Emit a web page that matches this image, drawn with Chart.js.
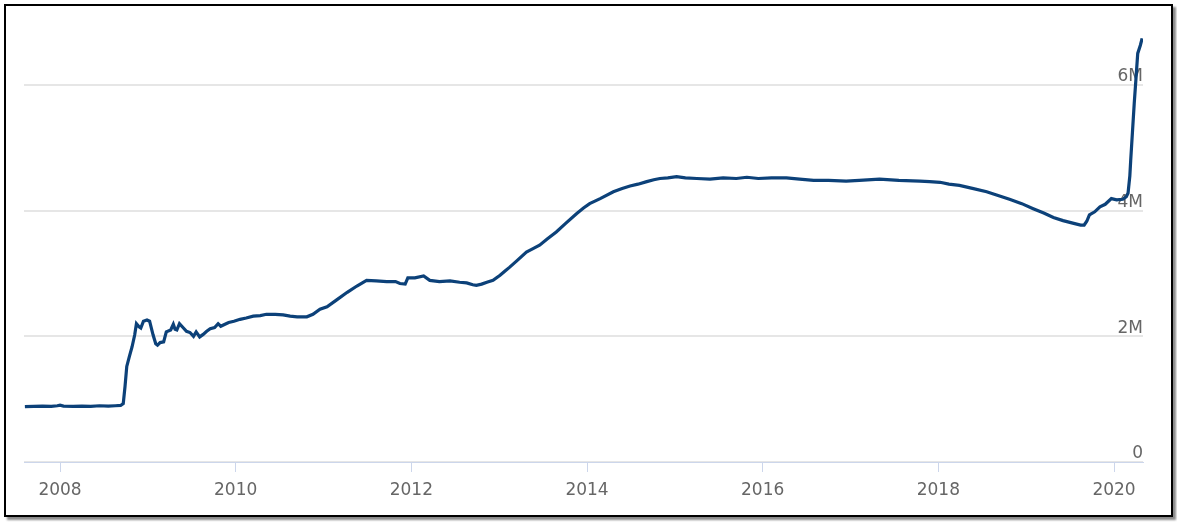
<!DOCTYPE html>
<html>
<head>
<meta charset="utf-8">
<script src="https://cdn.jsdelivr.net/npm/chart.js@4.4.1/dist/chart.umd.min.js"></script>
<style>
  html, body { margin: 0; padding: 0; background: #fff; }
  #wrap { position: relative; width: 1177px; height: 523px; overflow: hidden; }
  #frame { position: absolute; left: 4px; top: 4px; width: 1165px; height: 509px;
           border: 2px solid #000; box-shadow: 3px 3px 2px #8a8a8a; background: #fff; }
  #c { position: absolute; left: 0; top: 0; }
</style>
</head>
<body>
<div id="wrap">
  <div id="frame"></div>
  <canvas id="c" width="1177" height="523"></canvas>
</div>
<script>
// Decimal years (x) and balance values in millions of millions ("M")
const years = [
  2007.60, 2007.70, 2007.80, 2007.90, 2007.97, 2008.00, 2008.04, 2008.15, 2008.25, 2008.35,
  2008.45, 2008.55, 2008.63, 2008.69, 2008.72, 2008.74, 2008.76, 2008.79, 2008.82, 2008.85,
  2008.87, 2008.90, 2008.92, 2008.95, 2008.99, 2009.02, 2009.06, 2009.09, 2009.11, 2009.14,
  2009.18, 2009.21, 2009.26, 2009.29, 2009.31, 2009.33, 2009.36, 2009.40, 2009.44, 2009.48,
  2009.52, 2009.55, 2009.59, 2009.63, 2009.67, 2009.71, 2009.76, 2009.80, 2009.83, 2009.86,
  2009.92, 2009.98, 2010.05, 2010.12, 2010.20, 2010.28, 2010.35, 2010.45, 2010.54, 2010.62,
  2010.70, 2010.81, 2010.88, 2010.96, 2011.04, 2011.15, 2011.27, 2011.38, 2011.49, 2011.60,
  2011.72, 2011.82, 2011.87, 2011.93, 2011.96, 2012.04, 2012.14, 2012.21, 2012.32, 2012.44,
  2012.55, 2012.63, 2012.70, 2012.74, 2012.80, 2012.86, 2012.93, 2013.01, 2013.06, 2013.12,
  2013.20, 2013.31, 2013.38, 2013.46, 2013.55, 2013.65, 2013.76, 2013.88, 2013.96, 2014.03,
  2014.15, 2014.30, 2014.40, 2014.49, 2014.58, 2014.68, 2014.76, 2014.83, 2014.92, 2015.02,
  2015.12, 2015.25, 2015.40, 2015.55, 2015.70, 2015.82, 2015.95, 2016.10, 2016.27, 2016.42,
  2016.58, 2016.75, 2016.95, 2017.10, 2017.33, 2017.55, 2017.79, 2017.90, 2018.02, 2018.12,
  2018.24, 2018.40, 2018.55, 2018.68, 2018.81, 2018.95, 2019.08, 2019.20, 2019.31, 2019.42,
  2019.53, 2019.62, 2019.66, 2019.69, 2019.72, 2019.78, 2019.84, 2019.90, 2019.97, 2020.03,
  2020.10, 2020.14, 2020.16, 2020.18, 2020.19, 2020.21, 2020.23, 2020.25, 2020.27, 2020.30,
  2020.32
];
const balance = [
  0.88, 0.885, 0.89, 0.885, 0.895, 0.905, 0.89, 0.885, 0.89, 0.885,
  0.895, 0.89, 0.895, 0.90, 0.93, 1.20, 1.52, 1.68, 1.83, 2.02,
  2.20, 2.15, 2.13, 2.24, 2.26, 2.24, 2.02, 1.88, 1.86, 1.90,
  1.91, 2.07, 2.10, 2.19, 2.11, 2.10, 2.20, 2.14, 2.08, 2.06,
  2.00, 2.07, 1.99, 2.03, 2.08, 2.12, 2.14, 2.20, 2.16, 2.18,
  2.22, 2.24, 2.27, 2.29, 2.32, 2.33, 2.35, 2.35, 2.34, 2.32,
  2.31, 2.31, 2.35, 2.43, 2.47, 2.58, 2.70, 2.80, 2.89, 2.88,
  2.87, 2.87, 2.84, 2.83, 2.93, 2.93, 2.96, 2.89, 2.87, 2.88,
  2.86, 2.85, 2.82, 2.81, 2.83, 2.86, 2.89, 2.97, 3.03, 3.10,
  3.20, 3.34, 3.39, 3.45, 3.55, 3.66, 3.80, 3.95, 4.04, 4.11,
  4.19, 4.30, 4.35, 4.39, 4.42, 4.46, 4.49, 4.51, 4.52, 4.54,
  4.52, 4.51, 4.50, 4.52, 4.51, 4.53, 4.51, 4.52, 4.52, 4.50,
  4.48, 4.48, 4.47, 4.48, 4.50, 4.48, 4.47, 4.46, 4.45, 4.42,
  4.40, 4.35, 4.30, 4.24, 4.18, 4.11, 4.03, 3.96, 3.89, 3.84,
  3.80, 3.77, 3.77, 3.83, 3.93, 3.98, 4.06, 4.10, 4.19, 4.17,
  4.18, 4.22, 4.28, 4.55, 4.80, 5.25, 5.70, 6.10, 6.50, 6.63,
  6.74
];
const xTicks = [2008, 2010, 2012, 2014, 2016, 2018, 2020];
const yTicks = [0, 2, 4, 6];
const xMin = 2007.59, xMax = 2020.33;
const yMin = 0, yMax = 7;

const points = years.map((y, i) => ({ x: y, y: balance[i] }));
const FONT = '"DejaVu Sans", sans-serif';

new Chart(document.getElementById('c'), {
  type: 'line',
  data: {
    datasets: [{
      data: points,
      borderColor: '#0c4179',
      borderWidth: 3.2,
      pointRadius: 0,
      tension: 0,
      fill: false
    }]
  },
  options: {
    responsive: false,
    animation: false,
    devicePixelRatio: 1,
    layout: { padding: { left: 24, right: 34, top: 22, bottom: 14.6 } },
    plugins: { legend: { display: false }, tooltip: { enabled: false } },
    scales: {
      x: {
        type: 'linear',
        min: xMin,
        max: xMax,
        afterBuildTicks: s => { s.ticks = xTicks.map(v => ({ value: v })); },
        grid: { display: true, drawOnChartArea: false, drawTicks: true, tickLength: 10, color: '#ccd6eb', lineWidth: 1 },
        border: { display: true, color: '#ccd6eb', width: 1 },
        ticks: {
          color: '#666666',
          font: { family: FONT, size: 17 },
          padding: 8,
          maxRotation: 0,
          autoSkip: false,
          callback: v => String(v)
        }
      },
      y: {
        type: 'linear',
        position: 'right',
        min: yMin,
        max: yMax,
        afterBuildTicks: s => { s.ticks = yTicks.map(v => ({ value: v })); },
        grid: { color: '#e6e6e6', lineWidth: 2, drawTicks: false },
        border: { display: false },
        ticks: {
          mirror: true,
          padding: 0,
          labelOffset: -8,
          color: '#666666',
          font: { family: FONT, size: 17 },
          callback: v => v === 0 ? '0' : v + 'M'
        }
      }
    }
  }
});
</script>
</body>
</html>
